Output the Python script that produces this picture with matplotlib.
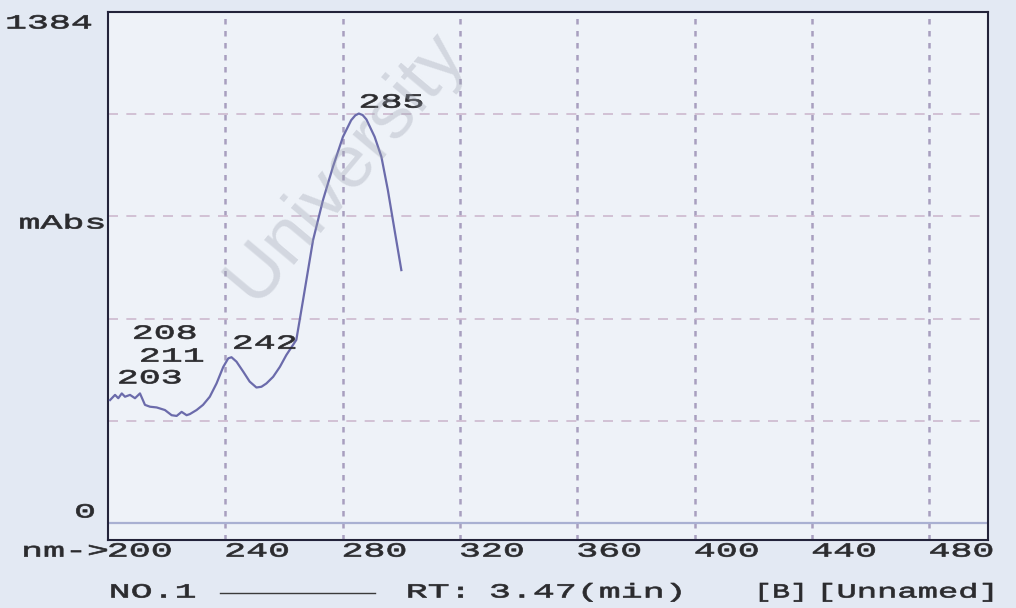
import matplotlib
matplotlib.use("Agg")
import matplotlib.pyplot as plt
from matplotlib.patheffects import AbstractPathEffect
from matplotlib.transforms import Affine2D, blended_transform_factory
from matplotlib.lines import Line2D

# ---------------- data ----------------
wavelength_nm = [200.7, 202.4, 203.5, 204.7, 205.8, 207.5, 209.2, 210.9, 212.6,
                 214.3, 216.6, 219.4, 221.7, 223.4, 225.1, 226.8, 227.9, 230.2,
                 232.4, 234.7, 237.0, 239.3, 241.0, 242.1, 243.8, 246.1, 248.3,
                 250.6, 252.3, 254.0, 256.3, 258.6, 260.8, 264.2, 266.5, 269.9,
                 273.3, 276.7, 280.1, 282.9, 284.3, 285.5, 286.8, 288.1, 290.9,
                 293.2, 295.4, 297.7, 300.0]
absorbance_mabs = [333, 347, 338, 351, 342, 347, 338, 351, 320,
                   315, 313, 306, 292, 290, 301, 292, 295, 306,
                   320, 342, 378, 423, 446, 449, 437, 410, 383,
                   367, 369, 378, 396, 423, 455, 496, 604, 766,
                   875, 965, 1046, 1091, 1104, 1109, 1105, 1093, 1046,
                   992, 902, 793, 685]

peak_labels = ["203", "208", "211", "242", "285"]
peak_label_x = [203.4, 208.5, 210.9, 242.6, 285.8]
peak_label_y = [393, 514, 452, 487, 1140]

x_ticks = [200, 240, 280, 320, 360, 400, 440, 480]
x_tick_labels = ["200", "240", "280", "320", "360", "400", "440", "480"]
y_max = 1384
y_grid = [276.8, 553.6, 830.4, 1107.2]

# ---------------- style helpers ----------------
W, H = 1016, 608
FONT = "Liberation Mono"
FS = 14.4
TXT = "#2b2b2e"


class Stretch(AbstractPathEffect):
    """Widen glyphs horizontally (the printout uses an expanded font)."""

    def __init__(self, sx=1.8, anchor="left", stroke=0.5):
        super().__init__()
        self.sx = sx
        self.anchor = anchor
        self.stroke = stroke

    def draw_path(self, renderer, gc, tpath, affine, rgbFace=None):
        ext = tpath.get_extents()
        if self.anchor == "left":
            cx = ext.x0
        elif self.anchor == "right":
            cx = ext.x1
        else:
            cx = 0.5 * (ext.x0 + ext.x1)
        t = Affine2D().translate(-cx, 0).scale(self.sx, 1.0).translate(cx, 0) + affine
        gc0 = renderer.new_gc()
        gc0.copy_properties(gc)
        if rgbFace is not None and self.stroke > 0:
            gc0.set_linewidth(self.stroke)
            gc0.set_foreground(rgbFace)
        renderer.draw_path(gc0, tpath, t, rgbFace)
        gc0.restore()


def ftext(px, py, s, ha="left", sx=1.83, **kw):
    """Text placed in reference pixel coordinates (figure)."""
    return fig.text(px / W, 1 - py / H, s, ha=ha, va="center", family=FONT,
                    fontsize=FS, color=TXT,
                    path_effects=[Stretch(sx, ha)], **kw)


fig = plt.figure(figsize=(W / 100, H / 100), dpi=100, facecolor="#e3e9f3")
ax = fig.add_axes([108 / W, 1 - 540 / H, (988 - 108) / W, (540 - 12) / H])
ax.set_facecolor("#eef2f8")

ax.set_xlim(200, 500)
ax.set_ylim(-46, y_max)

# grid
for gx in x_ticks[1:]:
    ax.axvline(gx, color="#a89fbf", lw=1.8, ls=(0, (2.2, 2.6)), zorder=1)
for gy in y_grid:
    ax.axhline(gy, color="#cdb9cf", lw=1.2, ls=(0, (6, 5)), zorder=1)
# zero line
ax.axhline(0, color="#a9b0d2", lw=1.6, zorder=1.5)

# spectrum
ax.plot(wavelength_nm, absorbance_mabs, color="#6b6bab", lw=1.6, zorder=3,
        solid_joinstyle="round")

# peak labels
for lab, lx, ly in zip(peak_labels, peak_label_x, peak_label_y):
    ax.text(lx, ly, lab, ha="left", va="center", family=FONT, fontsize=FS,
            color=TXT, path_effects=[Stretch(1.83, "left")], zorder=4)

ax.set_xticks([])
ax.set_yticks([])
for sp in ax.spines.values():
    sp.set_color("#23233a")
    sp.set_linewidth(1.5)

# x tick labels (left-aligned on the grid positions, as printed)
trans = blended_transform_factory(ax.transData, ax.transAxes)
for xv, lab in zip(x_ticks, x_tick_labels):
    ax.text(xv, -0.021, lab, transform=trans, ha="left", va="center",
            family=FONT, fontsize=FS, color=TXT,
            path_effects=[Stretch(1.83, "left")], clip_on=False)
ax.text(200, -0.021, "nm->", transform=trans, ha="right", va="center",
        family=FONT, fontsize=FS, color=TXT,
        path_effects=[Stretch(1.83, "right")], clip_on=False)

# y labels
ftext(92, 23, "1384", ha="right")
ftext(105, 223, "mAbs", ha="right")
ftext(95, 512, "0", ha="right")

# footer
ftext(110, 592, "NO.1")
fig.add_artist(Line2D([220 / W, 375 / W], [1 - 593 / H, 1 - 593 / H],
                      color="#3a3a3a", lw=1.0))
ftext(407, 592, "RT:")
ftext(490, 592, "3.47(min)")
ftext(756, 592, "[B]", sx=1.5)
ftext(996, 592, "[Unnamed]", ha="right", sx=1.69)

# faint watermark of the scanned page
fig.text(255 / W, 1 - 305 / H, "University", rotation=50,
         rotation_mode="anchor", ha="left", va="baseline",
         family="Liberation Sans", fontsize=54, color="#9aa0ae",
         alpha=0.32, zorder=10)

fig.savefig("out.png", dpi=100, facecolor=fig.get_facecolor())
